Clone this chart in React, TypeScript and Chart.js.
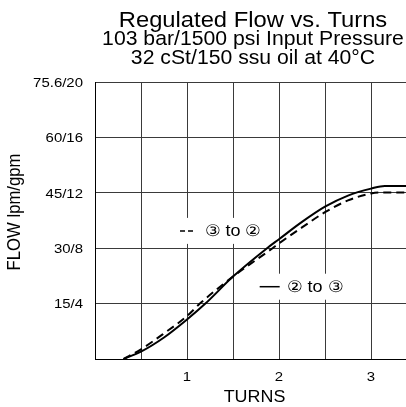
import React, { useEffect, useRef } from "react";
import { Chart, registerables } from "chart.js";

Chart.register(...registerables);

// ---- data ----
const titleLines = [
  "Regulated Flow vs. Turns",
  "103 bar/1500 psi Input Pressure",
  "32 cSt/150 ssu oil at 40°C",
];
const xAxisTitle = "TURNS";
const yAxisTitle = "FLOW lpm/gpm";

const xTickValues = [1, 2, 3];
const xTickLabels = ["1", "2", "3"];
const yTickValues = [4, 8, 12, 16, 20];
const yTickLabels = ["15/4", "30/8", "45/12", "60/16", "75.6/20"];

// solid: 2 to 3
const turnsSolid = [0.31, 0.5, 0.75, 1.0, 1.2, 1.5, 1.87, 2.0, 2.25, 2.5, 2.75, 3.0, 3.15, 3.5];
const flowSolid = [0, 0.53, 1.55, 2.85, 4.0, 5.95, 8.0, 8.65, 9.9, 11.0, 11.8, 12.3, 12.5, 12.5];
// dashed: 3 to 2
const turnsDashed = [0.31, 0.5, 0.75, 1.0, 1.14, 1.5, 1.93, 2.0, 2.25, 2.5, 2.75, 3.0, 3.1, 3.5];
const flowDashed = [0, 0.7, 1.85, 3.1, 4.0, 5.95, 8.0, 8.35, 9.5, 10.6, 11.45, 11.95, 12.03, 12.03];

const labelDashed = "③ to ②";
const labelSolid = "② to ③";

const FONT = "'Liberation Sans', Arial, Helvetica, sans-serif";
const SX = 1.1; // slight horizontal stretch of the reference text

function stretchedText(
  ctx: CanvasRenderingContext2D,
  text: string,
  x: number,
  y: number,
  size: number,
  align: CanvasTextAlign,
  baseline: CanvasTextBaseline,
  sx = SX
) {
  ctx.save();
  ctx.translate(x, y);
  ctx.scale(sx, 1);
  ctx.font = `${size}px ${FONT}`;
  ctx.textAlign = align;
  ctx.textBaseline = baseline;
  ctx.fillStyle = "#000";
  ctx.fillText(text, 0, 0);
  ctx.restore();
}

const textPlugin = {
  id: "textPlugin",
  beforeDatasetsDraw(chart: any) {
    const { ctx, scales } = chart;
    const xs = scales.x;
    const ys = scales.y;
    const drawLabel = (tx: number, ty: number, dashed: boolean, text: string) => {
      const px = xs.getPixelForValue(tx);
      const py = ys.getPixelForValue(ty);
      ctx.save();
      ctx.font = `16.4px ${FONT}`;
      const w = ctx.measureText(text).width * SX;
      ctx.fillStyle = "#fff";
      ctx.fillRect(px - 3, py - 13, 25 + w + 6, 26);
      ctx.strokeStyle = "#000";
      ctx.lineWidth = 1.5;
      ctx.beginPath();
      if (dashed) {
        ctx.moveTo(px, py);
        ctx.lineTo(px + 5, py);
        ctx.moveTo(px + 8, py);
        ctx.lineTo(px + 13, py);
      } else {
        ctx.moveTo(px, py);
        ctx.lineTo(px + 20, py);
      }
      ctx.stroke();
      ctx.restore();
      stretchedText(ctx, text, px + (dashed ? 25 : 27.5), py + 1, 16.4, "left", "middle");
    };
    drawLabel(0.924, 9.25, true, labelDashed);
    drawLabel(1.79, 5.22, false, labelSolid);
  },
  afterDraw(chart: any) {
    const { ctx, scales, chartArea } = chart;
    const xs = scales.x;
    const ys = scales.y;
    const cx = 253;
    stretchedText(ctx, titleLines[0], cx, 27, 21.6, "center", "alphabetic");
    stretchedText(ctx, titleLines[1], cx, 44.5, 19.3, "center", "alphabetic");
    stretchedText(ctx, titleLines[2], cx, 64, 19.3, "center", "alphabetic");
    yTickValues.forEach((v, i) => {
      const py = ys.getPixelForValue(v);
      stretchedText(ctx, yTickLabels[i], chartArea.left - 12, py + 1, 13.6, "right", "middle");
    });
    xTickValues.forEach((v, i) => {
      const px = xs.getPixelForValue(v);
      stretchedText(ctx, xTickLabels[i], px, chartArea.bottom + 18, 13.6, "center", "middle");
    });
    stretchedText(ctx, xAxisTitle, 254.5, 398, 16.3, "center", "middle");
    ctx.save();
    ctx.translate(15, 212);
    ctx.scale(1.1, 1);
    ctx.rotate(-Math.PI / 2);
    ctx.font = `16.7px ${FONT}`;
    ctx.textAlign = "center";
    ctx.textBaseline = "middle";
    ctx.fillStyle = "#000";
    ctx.fillText(yAxisTitle, 0, 0);
    ctx.restore();
  },
};

export default function App() {
  const ref = useRef<HTMLCanvasElement | null>(null);
  useEffect(() => {
    if (!ref.current) return;
    const chart = new Chart(ref.current, {
      type: "line",
      data: {
        datasets: [
          {
            label: labelSolid,
            data: turnsSolid.map((x, i) => ({ x, y: flowSolid[i] })),
            borderColor: "#000",
            borderWidth: 2,
            pointRadius: 0,
            cubicInterpolationMode: "monotone",
            fill: false,
          },
          {
            label: labelDashed,
            data: turnsDashed.map((x, i) => ({ x, y: flowDashed[i] })),
            borderColor: "#000",
            borderWidth: 2,
            borderDash: [8, 5],
            pointRadius: 0,
            cubicInterpolationMode: "monotone",
            fill: false,
          },
        ],
      },
      options: {
        responsive: false,
        animation: false,
        layout: { padding: { top: 82, right: 3, bottom: 0, left: 0 } },
        plugins: {
          legend: { display: false },
          title: { display: false },
          tooltip: { enabled: false },
        },
        scales: {
          x: {
            type: "linear",
            min: 0,
            max: 3.5,
            ticks: { stepSize: 0.5, display: false },
            grid: { color: "#3a3a3a", lineWidth: 1, drawTicks: false },
            border: { display: true, color: "#000", width: 1 },
            afterFit: (s: any) => {
              s.height = 48;
            },
          },
          y: {
            type: "linear",
            min: 0,
            max: 20,
            ticks: { stepSize: 4, display: false },
            grid: { color: "#3a3a3a", lineWidth: 1, drawTicks: false },
            border: { display: true, color: "#000", width: 1 },
            afterFit: (s: any) => {
              s.width = 95;
            },
          },
        },
      },
      plugins: [textPlugin],
    } as any);
    return () => chart.destroy();
  }, []);
  return (
    <div
      style={{
        position: "fixed",
        left: 0,
        top: 0,
        width: 406,
        height: 407,
        overflow: "hidden",
        background: "#fff",
      }}
    >
      <canvas ref={ref} width={420} height={407} style={{ display: "block" }} />
    </div>
  );
}
